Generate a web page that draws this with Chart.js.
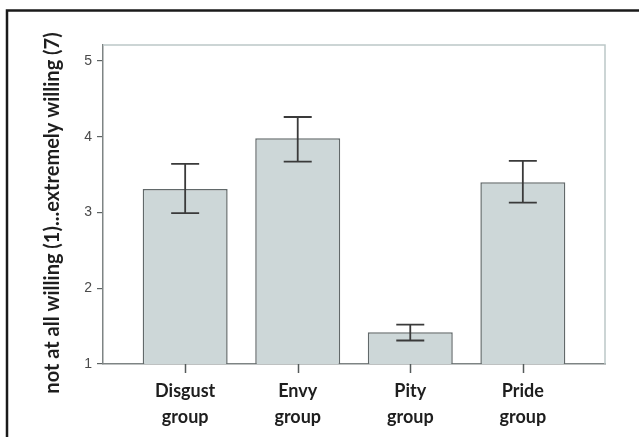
<!DOCTYPE html>
<html>
<head>
<meta charset="utf-8">
<script src="https://cdn.jsdelivr.net/npm/chart.js@4/dist/chart.umd.min.js"></script>
<style>
  html, body { margin: 0; padding: 0; background: #fff; }
  #wrap { width: 639px; height: 437px; position: relative; }
</style>
</head>
<body>
<div id="wrap"><canvas id="c" width="639" height="437"></canvas></div>
<script>
// Willingness ratings per emotion group (mean with error bar limits)
const categories = ["Disgust group", "Envy group", "Pity group", "Pride group"];
const means      = [3.31, 3.98, 1.42, 3.40];
const errLow     = [2.99, 3.67, 1.31, 3.13];
const errHigh    = [3.64, 4.26, 1.52, 3.68];
const yTicks     = [1, 2, 3, 4, 5];
const yTitle     = "not at all willing (1)...extremely willing (7)";

const points = categories.map((c, i) => ({ x: i, y: means[i] }));

// Page frame, plot frame, error bars, category tick marks and rotated axis title
const decor = {
  id: 'decor',
  beforeDraw(chart) {
    const ctx = chart.ctx;
    ctx.save();
    ctx.fillStyle = '#ffffff';
    ctx.fillRect(0, 0, chart.width, chart.height);
    ctx.restore();
  },
  beforeDatasetsDraw(chart) {
    const { ctx, chartArea: a } = chart;
    ctx.save();
    ctx.strokeStyle = '#bcc8c8';
    ctx.lineWidth = 1.5;
    ctx.beginPath();
    ctx.moveTo(a.left, a.top);
    ctx.lineTo(a.right, a.top);
    ctx.lineTo(a.right, a.bottom);
    ctx.stroke();
    ctx.restore();
  },
  afterDatasetsDraw(chart) {
    const { ctx, chartArea: a } = chart;
    const xs = chart.scales.x, ys = chart.scales.y;
    ctx.save();
    ctx.strokeStyle = '#3a3a3a';
    ctx.lineWidth = 1.8;
    const cap = 14;
    categories.forEach((c, i) => {
      const x = xs.getPixelForValue(i);
      const y1 = ys.getPixelForValue(errHigh[i]);
      const y2 = ys.getPixelForValue(errLow[i]);
      ctx.beginPath();
      ctx.moveTo(x, y1); ctx.lineTo(x, y2);
      ctx.moveTo(x - cap, y1); ctx.lineTo(x + cap, y1);
      ctx.moveTo(x - cap, y2); ctx.lineTo(x + cap, y2);
      ctx.stroke();
    });
    // category tick marks below the x axis
    ctx.strokeStyle = '#555b5b';
    ctx.lineWidth = 1.5;
    categories.forEach((c, i) => {
      const x = Math.round(xs.getPixelForValue(i)) + 0.5;
      ctx.beginPath();
      ctx.moveTo(x, a.bottom);
      ctx.lineTo(x, a.bottom + 9);
      ctx.stroke();
    });
    ctx.restore();
  },
  afterDraw(chart) {
    const ctx = chart.ctx;
    ctx.save();
    // outer frame (top and left)
    ctx.strokeStyle = '#1a1a1a';
    ctx.lineWidth = 2.5;
    ctx.beginPath();
    ctx.moveTo(7, chart.height);
    ctx.lineTo(7, 10.5);
    ctx.lineTo(chart.width, 10.5);
    ctx.stroke();
    // y axis title
    ctx.translate(53, 213);
    ctx.rotate(-Math.PI / 2);
    ctx.fillStyle = '#1e1e1e';
    ctx.font = 'bold 20px Lato';
    ctx.textAlign = 'center';
    ctx.textBaseline = 'middle';
    ctx.fillText(yTitle, 0, 0);
    ctx.restore();
  }
};

new Chart(document.getElementById('c'), {
  type: 'bar',
  data: {
    datasets: [{
      data: points,
      backgroundColor: '#cdd7d8',
      borderColor: '#62696a',
      borderWidth: 1.5,
      categoryPercentage: 1,
      barPercentage: 0.755
    }]
  },
  plugins: [decor],
  options: {
    responsive: false,
    animation: false,
    devicePixelRatio: 1,
    layout: { padding: { top: 45, right: 34, left: 0, bottom: 0 } },
    plugins: { legend: { display: false }, tooltip: { enabled: false } },
    scales: {
      x: {
        type: 'linear',
        offset: false,
        min: -0.73,
        max: 3.73,
        afterBuildTicks(scale) { scale.ticks = categories.map((c, i) => ({ value: i })); },
        afterFit(scale) { scale.height = 73; },
        grid: { display: false, drawTicks: true, tickLength: 9 },
        border: { display: true, color: '#7e8484', width: 1.5 },
        ticks: {
          autoSkip: false,
          maxRotation: 0,
          padding: 5,
          color: '#1e1e1e',
          font: { family: 'Lato', size: 18, weight: 'bold', lineHeight: 1.45 },
          callback: (v) => categories[v] ? categories[v].split(' ') : ''
        }
      },
      y: {
        min: 1,
        max: 5.21,
        afterBuildTicks(scale) { scale.ticks = yTicks.map(v => ({ value: v })); },
        afterFit(scale) { scale.width = 103; },
        grid: { display: true, drawOnChartArea: false, drawTicks: true, tickLength: 6, color: '#5e6464', tickColor: '#5e6464', tickWidth: 1.2, lineWidth: 1.2 },
        border: { display: true, color: '#7e8484', width: 1.5 },
        ticks: {
          padding: 5,
          color: '#4a4a4a',
          font: { family: 'Liberation Sans, Arial', size: 14 },
          callback: (v) => String(v)
        }
      }
    }
  }
});
</script>
</body>
</html>
